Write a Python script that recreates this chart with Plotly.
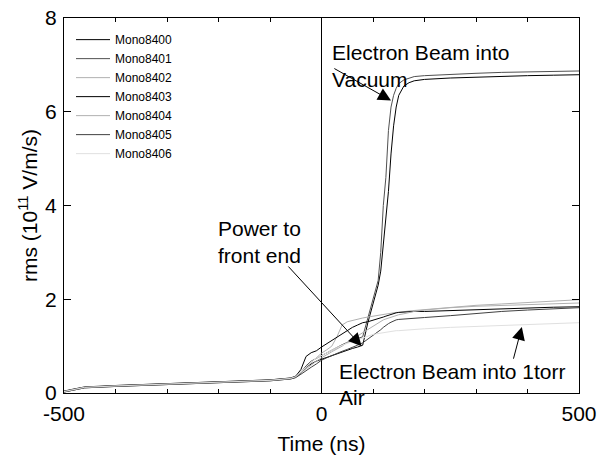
import plotly.graph_objects as go

# time axis (ns)
t = [-500, -480, -460, -400, -300, -200, -100, -60, -50,
     -40, -30, -20, -10, 0,
     10, 20, 30, 40, 50, 60, 70, 80, 90, 100,
     105, 110, 115, 120, 125, 130, 135, 140, 145, 150,
     160, 170, 180, 200,
     250, 300, 350, 400, 450, 500]

mono8400 = [0.03, 0.08, 0.12, 0.15, 0.19, 0.23, 0.27, 0.31, 0.34,
            0.42, 0.55, 0.62, 0.68, 0.72,
            0.76, 0.80, 0.84, 0.88, 0.92, 0.95, 0.98, 1.02, 1.50, 1.90,
            2.10, 2.30, 2.60, 3.20, 3.80, 4.30, 5.10, 5.70, 6.10, 6.35,
            6.55, 6.62, 6.66, 6.69,
            6.72, 6.74, 6.75, 6.77, 6.78, 6.79]
mono8401 = [0.02, 0.07, 0.11, 0.14, 0.18, 0.22, 0.26, 0.30, 0.33,
            0.44, 0.58, 0.68, 0.74, 0.80,
            0.86, 0.92, 0.98, 1.03, 1.08, 1.12, 1.16, 1.20, 1.60, 2.00,
            2.20, 2.40, 3.00, 4.00, 4.60, 5.60, 6.10, 6.35, 6.50, 6.60,
            6.68, 6.72, 6.75, 6.77,
            6.80, 6.82, 6.84, 6.85, 6.86, 6.87]
mono8402 = [0.04, 0.09, 0.12, 0.16, 0.20, 0.24, 0.28, 0.32, 0.35,
            0.45, 0.55, 0.65, 0.75, 0.85,
            0.92, 1.00, 1.20, 1.45, 1.52, 1.55, 1.58, 1.60, 1.62, 1.64,
            1.65, 1.66, 1.67, 1.68, 1.69, 1.70, 1.71, 1.71, 1.72, 1.72,
            1.74, 1.75, 1.76, 1.78,
            1.83, 1.87, 1.90, 1.93, 1.96, 1.99]
mono8403 = [0.04, 0.09, 0.13, 0.16, 0.20, 0.24, 0.28, 0.32, 0.36,
            0.50, 0.78, 0.86, 0.90, 0.98,
            1.05, 1.12, 1.18, 1.25, 1.32, 1.40, 1.45, 1.50, 1.52, 1.55,
            1.56, 1.58, 1.60, 1.62, 1.64, 1.66, 1.68, 1.70, 1.71, 1.72,
            1.73, 1.73, 1.74, 1.74,
            1.76, 1.78, 1.80, 1.82, 1.83, 1.84]
mono8404 = [0.03, 0.08, 0.12, 0.15, 0.19, 0.23, 0.27, 0.31, 0.34,
            0.43, 0.52, 0.60, 0.68, 0.75,
            0.82, 0.88, 0.94, 1.00, 1.08, 1.15, 1.22, 1.28, 1.35, 1.42,
            1.46, 1.50, 1.53, 1.56, 1.58, 1.60, 1.62, 1.64, 1.66, 1.67,
            1.69, 1.72, 1.74, 1.77,
            1.82, 1.85, 1.87, 1.89, 1.91, 1.92]
mono8405 = [0.02, 0.07, 0.11, 0.14, 0.18, 0.22, 0.26, 0.30, 0.33,
            0.40, 0.48, 0.55, 0.62, 0.70,
            0.75, 0.80, 0.85, 0.89, 0.93, 0.97, 1.02, 1.07, 1.15, 1.22,
            1.26, 1.30, 1.35, 1.40, 1.45, 1.48, 1.51, 1.54, 1.56, 1.57,
            1.58, 1.59, 1.60, 1.61,
            1.65, 1.70, 1.74, 1.77, 1.80, 1.82]
mono8406 = [0.03, 0.08, 0.12, 0.15, 0.19, 0.23, 0.27, 0.31, 0.35,
            0.45, 0.56, 0.66, 0.74, 0.80,
            0.86, 0.92, 0.97, 1.02, 1.06, 1.10, 1.14, 1.18, 1.22, 1.25,
            1.26, 1.27, 1.28, 1.29, 1.30, 1.31, 1.32, 1.32, 1.33, 1.33,
            1.34, 1.34, 1.35, 1.37,
            1.40, 1.42, 1.44, 1.46, 1.48, 1.50]

names = ["Mono8400", "Mono8401", "Mono8402", "Mono8403", "Mono8404", "Mono8405", "Mono8406"]
series = [mono8400, mono8401, mono8402, mono8403, mono8404, mono8405, mono8406]
colors = ["#000000", "#505050", "#b0b0b0", "#000000", "#b0b0b0", "#404040", "#e0e0e0"]

FONT = "Arial, 'Liberation Sans', sans-serif"

fig = go.Figure()
for name, y, c in zip(names, series, colors):
    fig.add_trace(go.Scatter(x=t, y=y, mode="lines", name=name,
                             line=dict(color=c, width=1)))

def label(x, y, text, yref="y"):
    return dict(x=x, y=y, xref="x", yref=yref, text=text, showarrow=False,
                xanchor="left", yanchor="middle", align="left",
                font=dict(size=21, color="black", family=FONT))

def arrow(x, y, ax, ay):
    return dict(x=x, y=y, ax=ax, ay=ay, xref="x", yref="y", axref="x", ayref="y",
                text="", showarrow=True, arrowhead=2, arrowsize=2.6, arrowwidth=1,
                arrowcolor="black")

annotations = [
    label(16, 6.97, "Electron Beam into<br>Vacuum"),
    label(-205, 3.22, "Power to<br>front end"),
    label(30, 0.45, "Electron Beam into 1torr"),
    label(30, -0.011, "Air", yref="paper"),
    arrow(135, 6.24, 22, 6.94),
    arrow(78, 1.0, -67, 2.73),
    arrow(389, 1.41, 372, 0.7),
]

fig.update_layout(
    width=598, height=460,
    margin=dict(l=64, r=19, t=18, b=67),
    paper_bgcolor="white", plot_bgcolor="white",
    font=dict(family=FONT, size=21, color="black"),
    showlegend=True,
    legend=dict(x=0.0136, y=0.981, xanchor="left", yanchor="top",
                bgcolor="rgba(0,0,0,0)", font=dict(size=12, family=FONT),
                itemwidth=34, tracegroupgap=0),
    annotations=annotations,
)

fig.update_xaxes(range=[-500, 500], tickvals=[-500, 0, 500], ticktext=["-500", "0", "500"],
                 ticks="inside", ticklen=5, tickcolor="black",
                 minor=dict(dtick=100, ticks="inside", ticklen=4, tickcolor="black"),
                 showline=True, linecolor="black", linewidth=1, mirror="allticks",
                 showgrid=False, zeroline=True, zerolinecolor="black", zerolinewidth=1,
                 ticklabelstandoff=2, automargin=False,
                 tickfont=dict(size=21),
                 title=dict(text="Time (ns)", font=dict(size=21), standoff=12))
fig.update_yaxes(range=[0, 8], tickvals=[0, 2, 4, 6, 8],
                 ticks="inside", ticklen=7, tickcolor="black",
                 showline=True, linecolor="black", linewidth=1, mirror="allticks",
                 showgrid=False, zeroline=False,
                 ticklabelstandoff=2, automargin=False,
                 tickfont=dict(size=21),
                 title=dict(text="rms (10<sup>11</sup> V/m/s)", font=dict(size=21), standoff=1))

fig.write_html("out.html")
